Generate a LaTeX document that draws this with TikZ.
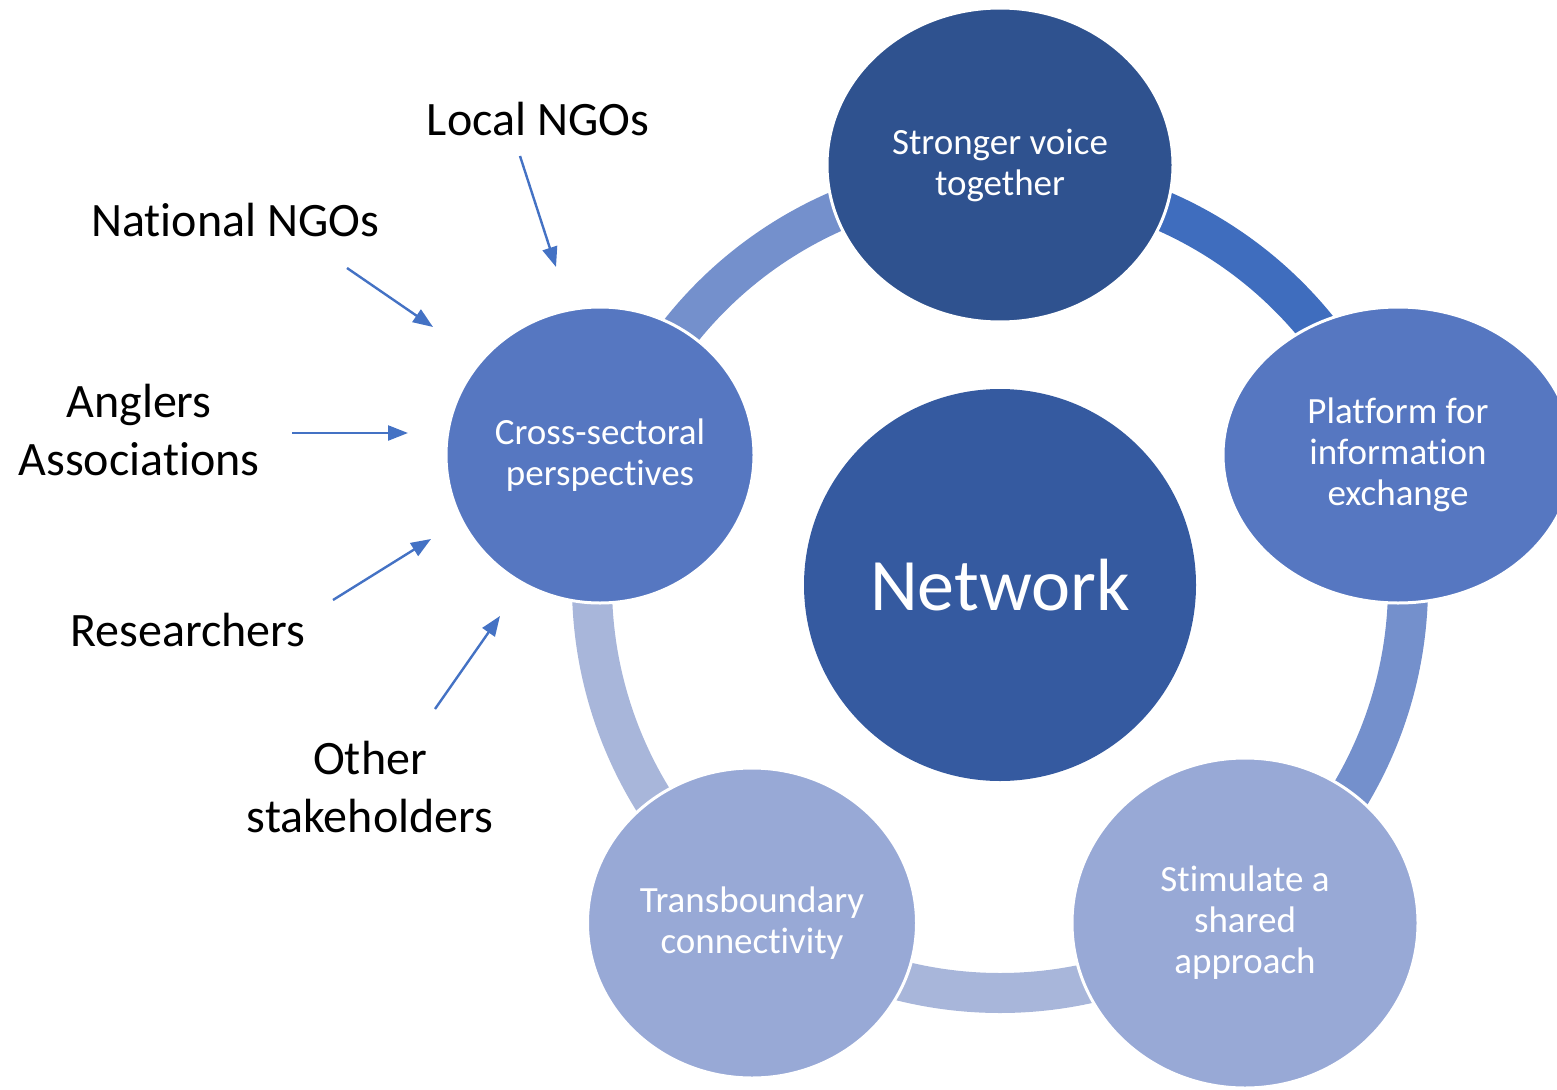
\documentclass[tikz,border=0pt]{standalone}
\usepackage{fontspec}
\setmainfont[Ligatures={NoCommon,NoContextual,NoRare}]{Carlito}
\usetikzlibrary{arrows.meta,shapes.geometric}
\newcommand\nlg{\kern0pt}
\definecolor{cDark}{HTML}{2F528F}
\definecolor{cNet}{HTML}{355AA0}
\definecolor{cMid}{HTML}{5677C1}
\definecolor{cLight}{HTML}{98A9D6}
\definecolor{rMid}{HTML}{7490CC}
\definecolor{rDark}{HTML}{3F6DBE}
\definecolor{rLight}{HTML}{A8B6DA}
\definecolor{arr}{HTML}{4472C4}
\tikzset{
  bubble/.style={ellipse, draw=white, line width=3pt, inner sep=0pt, text=white,
     align=center, font=\fontsize{37}{41}\selectfont},
  ringarc/.style={line width=40pt, line cap=butt},
  lbl/.style={align=center, text=black, font=\fontsize{48}{58}\selectfont},
  feed/.style={draw=arr, line width=2.4pt, -{Triangle[length=20pt,width=15pt]}}
}
\begin{document}
\begin{tikzpicture}[x=1pt,y=-1pt]
\useasboundingbox (0,0) rectangle (1557,1089);
\clip (0,0) rectangle (1557,1089);
\coordinate (c) at (1000,585);
% ring segments
\draw[ringarc, rMid]   (c) ++(198:408) arc[start angle=198, end angle=270, radius=408];
\draw[ringarc, rDark]  (c) ++(-90:408) arc[start angle=-90, end angle=-18, radius=408];
\draw[ringarc, rMid]   (c) ++(-18:408) arc[start angle=-18, end angle=54, radius=408];
\draw[ringarc, rLight] (c) ++(54:408) arc[start angle=54, end angle=126, radius=408];
\draw[ringarc, rLight] (c) ++(126:408) arc[start angle=126, end angle=198, radius=408];
% bubbles
\node[bubble, fill=cDark, minimum width=346pt, minimum height=314pt] (sv) at (1000,165) {Stronger voice\\together};
\node[bubble, fill=cMid, minimum width=350pt, minimum height=296pt] (pf) at (1398,455) {Platform for\\informat\nlg ion\\exchange};
\node[bubble, fill=cLight, minimum width=346pt, minimum height=330pt] (st) at (1245,923) {St\nlg imulate a\\shared\\approach};
\node[bubble, fill=cLight, minimum width=329pt, minimum height=310pt] (tb) at (752,923) {Transboundary\\connect\nlg iv\nlg it\nlg y};
\node[bubble, fill=cMid, minimum width=308pt, minimum height=296pt] (cs) at (600,455) {Cross-sectoral\\perspect\nlg ives};
\node[bubble, draw=none, fill=cNet, minimum width=392pt, minimum height=392pt, font=\fontsize{74}{86}\selectfont] (net) at (1000,585) {Network};
% labels
\node[lbl] (local) at (538,119) {Local NGOs};
\node[lbl] (natl) at (235,220) {Nat\nlg ional NGOs};
\node[lbl] (angl) at (139,430) {Anglers\\Associat\nlg ions};
\node[lbl] (res) at (188,630) {Researchers};
\node[lbl] (oth) at (370,787) {Other\\stakeholders};
% arrow coordinates
\coordinate (a1s) at (520,156); \coordinate (a1e) at (556,267);
\coordinate (a2s) at (347,268); \coordinate (a2e) at (433,327);
\coordinate (a3s) at (292,433); \coordinate (a3e) at (408,433);
\coordinate (a4s) at (333,600); \coordinate (a4e) at (431,539);
\coordinate (a5s) at (435,709); \coordinate (a5e) at (500,616);
\draw[feed] (a1s) -- (a1e);
\draw[feed] (a2s) -- (a2e);
\draw[feed] (a3s) -- (a3e);
\draw[feed] (a4s) -- (a4e);
\draw[feed] (a5s) -- (a5e);
\end{tikzpicture}
\end{document}
